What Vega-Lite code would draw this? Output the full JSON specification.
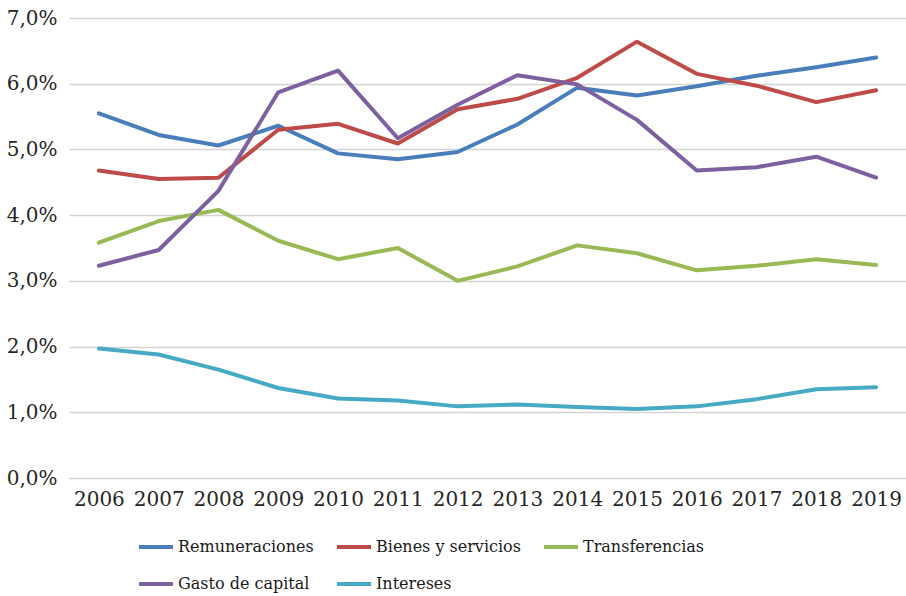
{
  "$schema": "https://vega.github.io/schema/vega-lite/v6.json",
  "width": 837,
  "height": 460,
  "autosize": {"type": "none"},
  "padding": {"left": 69, "top": 18, "right": 0, "bottom": 118},
  "background": "white",
  "config": {
    "view": {"stroke": null},
    "font": "DejaVu Serif",
    "axis": {"labelFont": "DejaVu Serif"},
    "legend": {"labelFont": "DejaVu Serif"}
  },
  "data": {
    "values": [
      {"year": "2006", "serie": "Remuneraciones", "v": 5.55},
      {"year": "2007", "serie": "Remuneraciones", "v": 5.22},
      {"year": "2008", "serie": "Remuneraciones", "v": 5.06},
      {"year": "2009", "serie": "Remuneraciones", "v": 5.36},
      {"year": "2010", "serie": "Remuneraciones", "v": 4.94},
      {"year": "2011", "serie": "Remuneraciones", "v": 4.85},
      {"year": "2012", "serie": "Remuneraciones", "v": 4.96},
      {"year": "2013", "serie": "Remuneraciones", "v": 5.38},
      {"year": "2014", "serie": "Remuneraciones", "v": 5.94},
      {"year": "2015", "serie": "Remuneraciones", "v": 5.82},
      {"year": "2016", "serie": "Remuneraciones", "v": 5.96},
      {"year": "2017", "serie": "Remuneraciones", "v": 6.12},
      {"year": "2018", "serie": "Remuneraciones", "v": 6.25},
      {"year": "2019", "serie": "Remuneraciones", "v": 6.40},
      {"year": "2006", "serie": "Bienes y servicios", "v": 4.68},
      {"year": "2007", "serie": "Bienes y servicios", "v": 4.55},
      {"year": "2008", "serie": "Bienes y servicios", "v": 4.57},
      {"year": "2009", "serie": "Bienes y servicios", "v": 5.30},
      {"year": "2010", "serie": "Bienes y servicios", "v": 5.39},
      {"year": "2011", "serie": "Bienes y servicios", "v": 5.09},
      {"year": "2012", "serie": "Bienes y servicios", "v": 5.61},
      {"year": "2013", "serie": "Bienes y servicios", "v": 5.77},
      {"year": "2014", "serie": "Bienes y servicios", "v": 6.09},
      {"year": "2015", "serie": "Bienes y servicios", "v": 6.64},
      {"year": "2016", "serie": "Bienes y servicios", "v": 6.15},
      {"year": "2017", "serie": "Bienes y servicios", "v": 5.97},
      {"year": "2018", "serie": "Bienes y servicios", "v": 5.72},
      {"year": "2019", "serie": "Bienes y servicios", "v": 5.90},
      {"year": "2006", "serie": "Transferencias", "v": 3.58},
      {"year": "2007", "serie": "Transferencias", "v": 3.91},
      {"year": "2008", "serie": "Transferencias", "v": 4.08},
      {"year": "2009", "serie": "Transferencias", "v": 3.61},
      {"year": "2010", "serie": "Transferencias", "v": 3.33},
      {"year": "2011", "serie": "Transferencias", "v": 3.50},
      {"year": "2012", "serie": "Transferencias", "v": 3.00},
      {"year": "2013", "serie": "Transferencias", "v": 3.22},
      {"year": "2014", "serie": "Transferencias", "v": 3.54},
      {"year": "2015", "serie": "Transferencias", "v": 3.42},
      {"year": "2016", "serie": "Transferencias", "v": 3.16},
      {"year": "2017", "serie": "Transferencias", "v": 3.23},
      {"year": "2018", "serie": "Transferencias", "v": 3.33},
      {"year": "2019", "serie": "Transferencias", "v": 3.24},
      {"year": "2006", "serie": "Gasto de capital", "v": 3.23},
      {"year": "2007", "serie": "Gasto de capital", "v": 3.47},
      {"year": "2008", "serie": "Gasto de capital", "v": 4.37},
      {"year": "2009", "serie": "Gasto de capital", "v": 5.87},
      {"year": "2010", "serie": "Gasto de capital", "v": 6.20},
      {"year": "2011", "serie": "Gasto de capital", "v": 5.17},
      {"year": "2012", "serie": "Gasto de capital", "v": 5.68},
      {"year": "2013", "serie": "Gasto de capital", "v": 6.13},
      {"year": "2014", "serie": "Gasto de capital", "v": 5.99},
      {"year": "2015", "serie": "Gasto de capital", "v": 5.45},
      {"year": "2016", "serie": "Gasto de capital", "v": 4.68},
      {"year": "2017", "serie": "Gasto de capital", "v": 4.73},
      {"year": "2018", "serie": "Gasto de capital", "v": 4.89},
      {"year": "2019", "serie": "Gasto de capital", "v": 4.57},
      {"year": "2006", "serie": "Intereses", "v": 1.97},
      {"year": "2007", "serie": "Intereses", "v": 1.88},
      {"year": "2008", "serie": "Intereses", "v": 1.65},
      {"year": "2009", "serie": "Intereses", "v": 1.37},
      {"year": "2010", "serie": "Intereses", "v": 1.21},
      {"year": "2011", "serie": "Intereses", "v": 1.18},
      {"year": "2012", "serie": "Intereses", "v": 1.09},
      {"year": "2013", "serie": "Intereses", "v": 1.12},
      {"year": "2014", "serie": "Intereses", "v": 1.08},
      {"year": "2015", "serie": "Intereses", "v": 1.05},
      {"year": "2016", "serie": "Intereses", "v": 1.09},
      {"year": "2017", "serie": "Intereses", "v": 1.20},
      {"year": "2018", "serie": "Intereses", "v": 1.35},
      {"year": "2019", "serie": "Intereses", "v": 1.38}
    ]
  },
  "mark": {"type": "line", "strokeWidth": 4, "strokeJoin": "round", "strokeCap": "round"},
  "encoding": {
    "x": {
      "field": "year",
      "type": "ordinal",
      "scale": {"type": "point", "padding": 0.5},
      "axis": {
        "title": null,
        "labelAngle": 0,
        "labelFontSize": 20,
        "labelColor": "#262626",
        "labelPadding": 11,
        "ticks": false,
        "domain": false,
        "grid": false
      }
    },
    "y": {
      "field": "v",
      "type": "quantitative",
      "scale": {"domain": [0, 7], "nice": false},
      "axis": {
        "title": null,
        "values": [0, 1, 2, 3, 4, 5, 6, 7],
        "labelExpr": "replace(format(datum.value, '.1f'), '.', ',') + '%'",
        "labelFontSize": 20,
        "labelColor": "#262626",
        "labelPadding": 12,
        "ticks": false,
        "domain": false,
        "grid": true,
        "gridColor": "#d4d4d4",
        "gridWidth": 1.5
      }
    },
    "color": {
      "field": "serie",
      "type": "nominal",
      "scale": {
        "domain": ["Remuneraciones", "Bienes y servicios", "Transferencias", "Gasto de capital", "Intereses"],
        "range": ["#4a7ebb", "#be4b48", "#98b954", "#7d60a0", "#46aac5"]
      },
      "legend": {
        "title": null,
        "orient": "none",
        "legendX": 68,
        "legendY": 510,
        "direction": "horizontal",
        "columns": 3,
        "columnPadding": 15,
        "rowPadding": 10,
        "symbolType": "stroke",
        "symbolSize": 1156,
        "symbolStrokeWidth": 4,
        "labelFontSize": 16,
        "labelColor": "#1a1a1a",
        "labelOffset": 3,
        "labelLimit": 300
      }
    }
  }
}
